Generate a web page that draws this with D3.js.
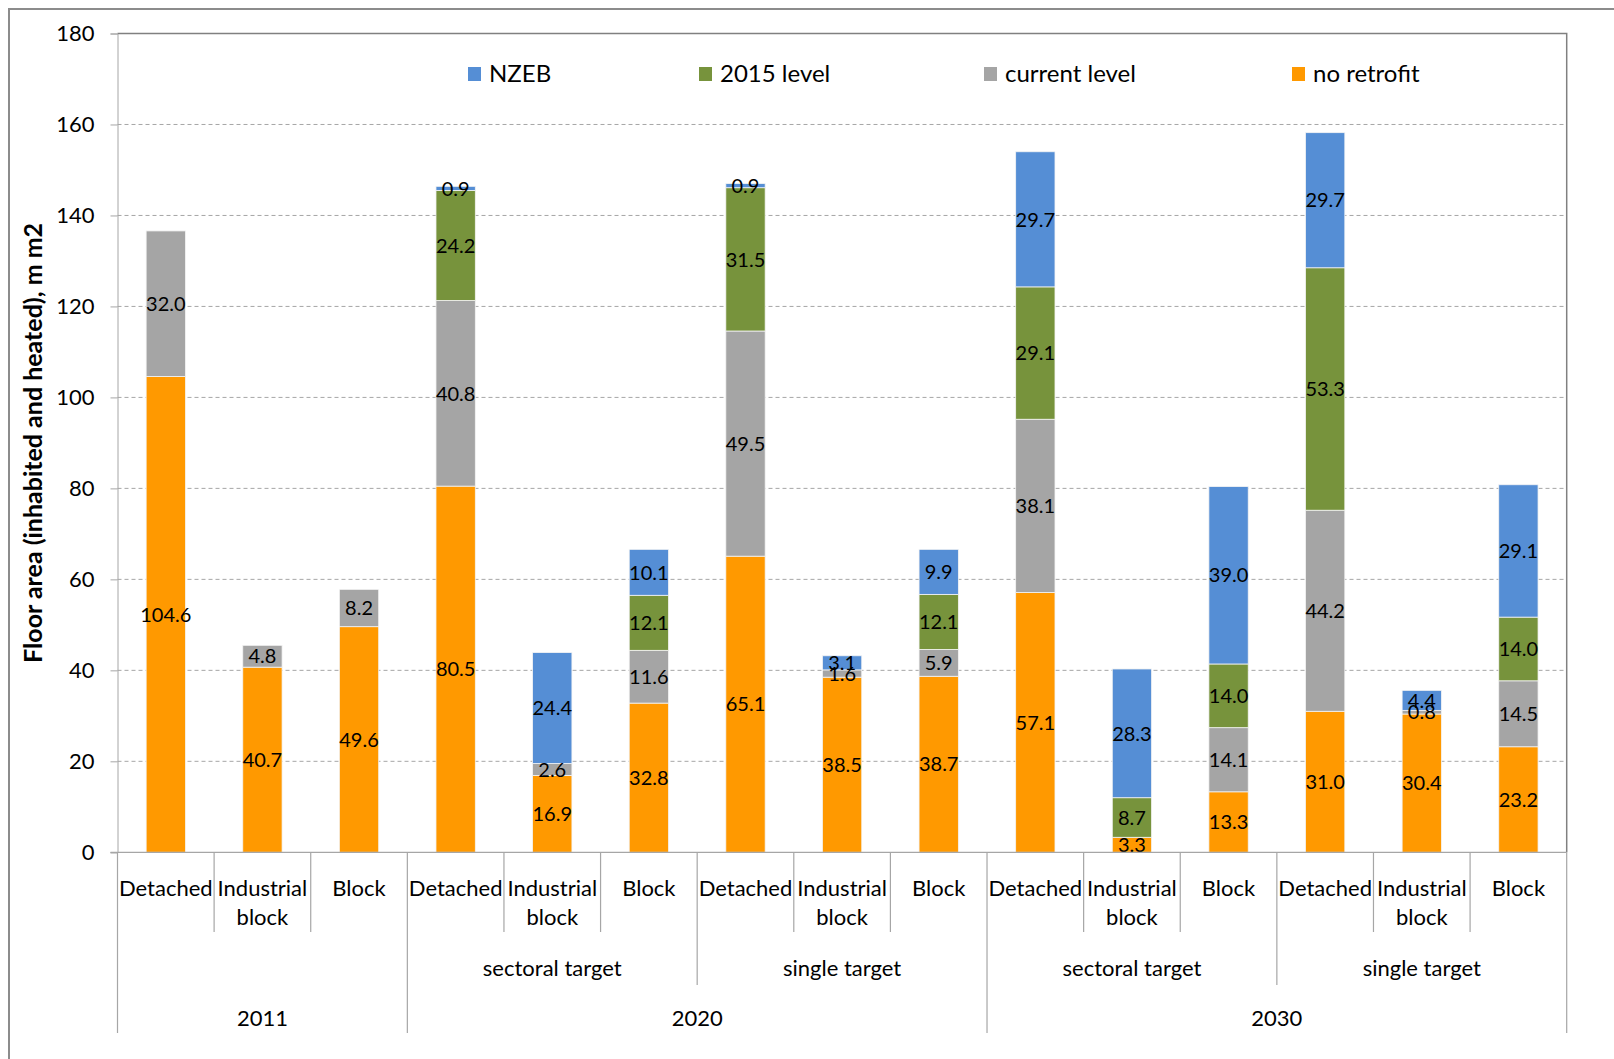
<!DOCTYPE html>
<html>
<head>
<meta charset="utf-8">
<script src="https://cdn.jsdelivr.net/npm/d3@7"></script>
<style>
  body { margin: 0; background: #fff; }
  text { font-family: Lato, "Open Sans", sans-serif; fill: #000; }
</style>
</head>
<body>
<svg id="chart" width="1614" height="1059"></svg>
<script>
// categories (bottom to top of the multi-level axis)
const categories = ["Detached", "Industrial block", "Block",
                    "Detached", "Industrial block", "Block",
                    "Detached", "Industrial block", "Block",
                    "Detached", "Industrial block", "Block",
                    "Detached", "Industrial block", "Block"];
const scenarioLabels = ["", "sectoral target", "single target", "sectoral target", "single target"];
const yearLabels = ["2011", "2020", "2030"];
const yearScenarioCount = [1, 2, 2];

// series (null = no segment)
const noRetrofit   = [104.6, 40.7, 49.6, 80.5, 16.9, 32.8, 65.1, 38.5, 38.7, 57.1, 3.3, 13.3, 31.0, 30.4, 23.2];
const currentLevel = [32.0, 4.8, 8.2, 40.8, 2.6, 11.6, 49.5, 1.6, 5.9, 38.1, null, 14.1, 44.2, 0.8, 14.5];
const level2015    = [null, null, null, 24.2, null, 12.1, 31.5, null, 12.1, 29.1, 8.7, 14.0, 53.3, null, 14.0];
const nzeb         = [null, null, null, 0.9, 24.4, 10.1, 0.9, 3.1, 9.9, 29.7, 28.3, 39.0, 29.7, 4.4, 29.1];

const yTicks = [0, 20, 40, 60, 80, 100, 120, 140, 160, 180];

const series = [
  {key: "no retrofit", values: noRetrofit, color: "#FF9900"},
  {key: "current level", values: currentLevel, color: "#A5A5A5"},
  {key: "2015 level", values: level2015, color: "#77933C"},
  {key: "NZEB", values: nzeb, color: "#558ED5"}
];
const legendOrder = ["NZEB", "2015 level", "current level", "no retrofit"];
const legendX = [468, 699, 984, 1292];

let svg = d3.select("#chart");
const L = 117.5, R = 1566.7, T = 33.5, B = 852.3;

// outer chart border (only left/top visible)
svg.append("path")
  .attr("d", `M9,1059 V9 H1614`)
  .attr("fill", "none").attr("stroke", "#8c8c8c").attr("stroke-width", 2);

let y = d3.scaleLinear().domain([0, 180]).range([B, T]);
let x = d3.scaleBand().domain(d3.range(categories.length)).range([L, R])
  .paddingInner(0.593).paddingOuter(0.2965);

// gridlines
svg.append("g").selectAll("line")
  .data(yTicks.filter(d => d > 0 && d < 180))
  .enter().append("line")
  .attr("x1", L).attr("x2", R)
  .attr("y1", d => y(d)).attr("y2", d => y(d))
  .attr("stroke", "#a6a6a6").attr("stroke-dasharray", "4,3").attr("stroke-width", 1);

// plot border top/right
svg.append("path")
  .attr("d", `M${L},${y(180)} H${R} V${B}`)
  .attr("fill", "none").attr("stroke", "#808080").attr("stroke-width", 1.5);

// stacked data
let table = categories.map((c, i) => {
  let row = {i: i};
  series.forEach(s => row[s.key] = s.values[i] == null ? 0 : s.values[i]);
  return row;
});
let stacked = d3.stack().keys(series.map(s => s.key))(table);

let layers = svg.append("g");
stacked.forEach((layer, k) => {
  let s = series[k];
  let g = layers.append("g");
  g.selectAll("rect")
    .data(layer.filter(d => s.values[d.data.i] != null))
    .enter().append("rect")
    .attr("x", d => x(d.data.i))
    .attr("width", x.bandwidth())
    .attr("y", d => y(d[1]))
    .attr("height", d => y(d[0]) - y(d[1]))
    .attr("fill", s.color)
    .attr("stroke", "#f4f4f4").attr("stroke-width", 0.8);
});
// labels drawn after all bars
stacked.forEach((layer, k) => {
  let s = series[k];
  layers.append("g").selectAll("text")
    .data(layer.filter(d => s.values[d.data.i] != null))
    .enter().append("text")
    .attr("x", d => x(d.data.i) + x.bandwidth() / 2)
    .attr("y", d => y((d[0] + d[1]) / 2))
    .attr("dy", "0.36em")
    .attr("text-anchor", "middle")
    .style("font-size", "20px")
    .text(d => d3.format(".1f")(s.values[d.data.i]));
});

// y axis
let yAxis = svg.append("g")
  .attr("transform", `translate(${L},0)`)
  .call(d3.axisLeft(y).tickValues(yTicks).tickSize(7).tickPadding(16).tickFormat(d3.format("d")));
yAxis.select(".domain").attr("stroke", "#a6a6a6");
yAxis.selectAll(".tick line").attr("stroke", "#a6a6a6");
yAxis.selectAll(".tick text").style("font-size", "22px").style("font-family", "Lato, sans-serif").attr("fill", "#000");

// y title
svg.append("text")
  .attr("transform", `translate(33,${(T + B) / 2}) rotate(-90)`)
  .attr("text-anchor", "middle")
  .attr("dy", "0.35em")
  .style("font-size", "25px").style("font-weight", "bold")
  .text("Floor area (inhabited and heated), m m2");

// x axis line
svg.append("line")
  .attr("x1", L - 7).attr("x2", R).attr("y1", B).attr("y2", B)
  .attr("stroke", "#a6a6a6").attr("stroke-width", 1.2);

// multi-level separators
const step = x.step();
const yearBounds = [0];
yearScenarioCount.reduce((acc, n) => { acc += n * 3; yearBounds.push(acc); return acc; }, 0);
const scenarioBounds = d3.range(0, categories.length + 1, 3);
let seps = d3.range(categories.length + 1).map(i => ({
  i: i,
  bottom: yearBounds.includes(i) ? 1033 : scenarioBounds.includes(i) ? 985 : 932
}));
svg.append("g").selectAll("line")
  .data(seps).enter().append("line")
  .attr("x1", d => L + d.i * step).attr("x2", d => L + d.i * step)
  .attr("y1", B).attr("y2", d => d.bottom)
  .attr("stroke", "#a6a6a6").attr("stroke-width", 1.2);

// level 1 labels
let catText = svg.append("g").selectAll("text")
  .data(categories).enter().append("text")
  .attr("text-anchor", "middle")
  .style("font-size", "22px");
catText.each(function (d, i) {
  let t = d3.select(this);
  d.split(" ").forEach((w, j) => {
    t.append("tspan")
      .attr("x", x(i) + x.bandwidth() / 2)
      .attr("y", 888 + j * 29)
      .attr("dy", "0.35em")
      .text(w);
  });
});

// level 2 labels
svg.append("g").selectAll("text")
  .data(scenarioLabels).enter().append("text")
  .attr("x", (d, i) => L + (i * 3 + 1.5) * step)
  .attr("y", 968).attr("dy", "0.35em")
  .attr("text-anchor", "middle")
  .style("font-size", "22px")
  .text(d => d);

// level 3 labels
svg.append("g").selectAll("text")
  .data(yearLabels).enter().append("text")
  .attr("x", (d, i) => L + (yearBounds[i] + yearBounds[i + 1]) / 2 * step)
  .attr("y", 1018).attr("dy", "0.35em")
  .attr("text-anchor", "middle")
  .style("font-size", "22px")
  .text(d => d);

// legend
let legend = svg.append("g").selectAll("g")
  .data(legendOrder).enter().append("g")
  .attr("transform", (d, i) => `translate(${legendX[i]},74)`);
legend.append("rect")
  .attr("x", 0).attr("y", -7).attr("width", 13).attr("height", 14)
  .attr("fill", d => series.find(s => s.key === d).color);
legend.append("text")
  .attr("x", 21).attr("dy", "0.35em")
  .style("font-size", "24px")
  .text(d => d);
</script>
</body>
</html>
